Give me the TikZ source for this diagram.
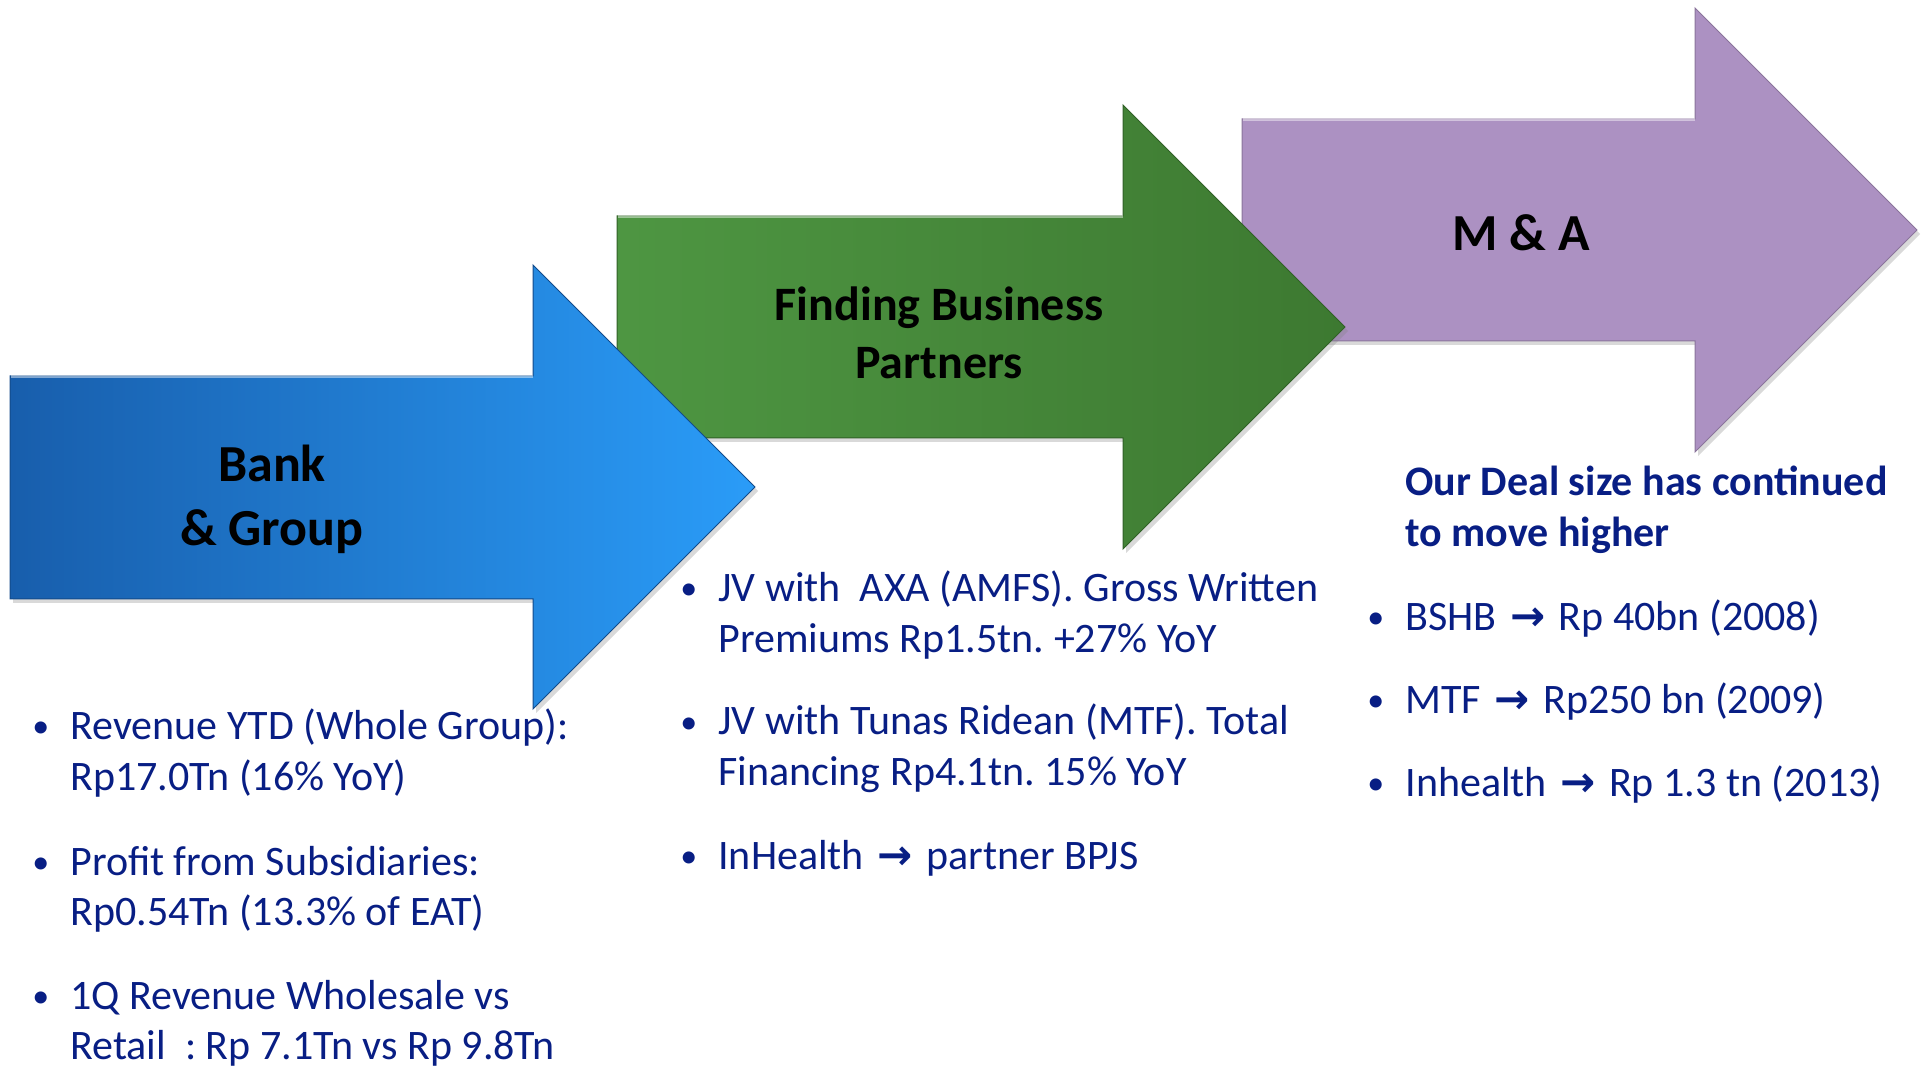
\documentclass[tikz,border=0pt]{standalone}
\usepackage{fontspec}
\setmainfont{Carlito}
\newfontfamily\symfont{DejaVu Sans}
\definecolor{dealnavy}{RGB}{8,30,132}
\definecolor{bankdark}{RGB}{24,94,172}
\definecolor{banklight}{RGB}{42,156,248}
\definecolor{partnerlight}{RGB}{78,150,66}
\definecolor{partnerdark}{RGB}{61,121,49}
\definecolor{mnapurple}{RGB}{172,145,194}
\usetikzlibrary{shadows}
\newcommand{\goesto}{\hspace{2pt}{\symfont\bfseries\char"2192}\hspace{2pt}}
\newcommand{\itemmark}{\frenchspacing\hangindent=19pt\hangafter=1\makebox[19pt][l]{\raisebox{1pt}{\fontsize{17}{17}\selectfont\textbullet}}}

\begin{document}
\begin{tikzpicture}[x=0.5pt,y=-0.5pt,
  stagearrow/.style={draw=#1,line width=0.5pt,
    drop shadow={opacity=0.3,shadow xshift=1.5pt,shadow yshift=-2pt}},
  bevel/.style={white,opacity=0.45,line width=1.5pt},
  stagetitle/.style={font=\bfseries\fontsize{26}{32}\selectfont,align=center,text=black},
  itembox/.style={anchor=base west,inner sep=0pt,text width=#1,align=flush left,
    text=dealnavy,font=\fontsize{21}{25.2}\selectfont}
]
  \useasboundingbox (0,0) rectangle (1922,1068);

  % M & A arrow
  \draw[stagearrow=mnapurple!80!black,fill=mnapurple]
    (1242,119) -- (1695,119) -- (1695,8) -- (1917,230) -- (1695,452) -- (1695,341) -- (1242,341) -- cycle;
  \draw[bevel] (1243,120) -- (1695,120);
  \node[stagetitle] (mna) at (1521,233) {M \& A};

  % Finding partners arrow
  \draw[stagearrow=partnerdark!80!black,left color=partnerlight,right color=partnerdark]
    (617,216) -- (1123,216) -- (1123,105) -- (1345,327) -- (1123,549) -- (1123,438) -- (617,438) -- cycle;
  \draw[bevel] (618,217) -- (1123,217);
  \node[stagetitle,font=\bfseries\fontsize{24}{28.8}\selectfont] (partners) at (939,333) {Finding Business\\Partners};

  % Bank arrow
  \draw[stagearrow=bankdark!80!black,left color=bankdark,right color=banklight]
    (10,376) -- (533,376) -- (533,265) -- (755,487) -- (533,709) -- (533,599) -- (10,599) -- cycle;
  \draw[bevel] (11,377) -- (533,377);
  \node[stagetitle] (bank) at (272,499) {Bank\\\& Group};

  % Bank figures
  \node[itembox=300pt] (rev) at (32,740) {\itemmark Revenue YTD (Whole Group):\newline Rp17.0Tn (16\% YoY)\par};
  \node[itembox=300pt] (profit) at (32,875) {\itemmark Profit from Subsidiaries:\newline Rp0.54Tn (13.3\% of EAT)\par};
  \node[itembox=300pt] (whole) at (32,1009) {\itemmark 1Q Revenue Wholesale vs\newline Retail\ \ : Rp 7.1Tn vs Rp 9.8Tn\par};

  % Partner figures
  \node[itembox=340pt] (axa) at (680,602) {\itemmark JV with\ \ AXA (AMFS). Gross Written\newline Premiums Rp1.5tn. +27\% YoY\par};
  \node[itembox=340pt] (mtf) at (680,735) {\itemmark JV with Tunas Ridean (MTF). Total\newline Financing Rp4.1tn. 15\% YoY\par};
  \node[itembox=340pt] (bpjs) at (680,869) {\itemmark InHealth \goesto\ partner BPJS\par};

  % Deal sizes
  \node[itembox=255pt,font=\bfseries\fontsize{21}{25.2}\selectfont] (deal) at (1405,496) {Our Deal size has continued\newline to move higher\par};
  \node[itembox=275pt] (bshb) at (1367,631) {\itemmark BSHB \goesto\ Rp 40bn (2008)\par};
  \node[itembox=275pt] (mtfdeal) at (1367,714) {\itemmark MTF \goesto\ Rp250 bn (2009)\par};
  \node[itembox=275pt] (inhealth) at (1367,797) {\itemmark Inhealth \goesto\ Rp 1.3 tn (2013)\par};
\end{tikzpicture}
\end{document}
